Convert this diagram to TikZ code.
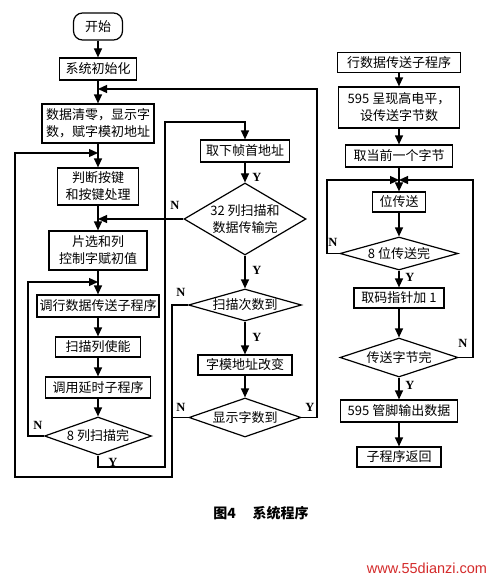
\documentclass[tikz,border=0pt]{standalone}
\usepackage{fontspec}
\setmainfont{Liberation Serif}
\newfontfamily\cjk{Noto Sans CJK SC}
\newfontfamily\wmfont{Liberation Sans}
\usetikzlibrary{shapes.geometric,arrows.meta}
\definecolor{wm}{HTML}{D42A2A}
\tikzset{
  base/.style={draw, line width=1.2pt, font=\cjk\fontsize{13}{17}\selectfont, align=center, inner sep=0pt},
  box/.style={base, rectangle},
  dia/.style={base, diamond},
  line/.style={line width=1.2pt},
  arr/.style={line, -{Triangle[length=9pt,width=8pt]}},
  lab/.style={font=\bfseries\fontsize{12.5}{12.5}\selectfont, inner sep=0pt}
}
\begin{document}
\begin{tikzpicture}[x=1pt,y=-1pt]
\fill[white] (0,0) rectangle (496,578);
\useasboundingbox (0,0) rectangle (496,578);

% left column
\node[box, rounded corners=9pt, minimum width=49pt, minimum height=27pt] (start) at (98,26.5) {开始};
\node[box, minimum width=77pt, minimum height=22pt] (sysinit) at (98,69) {系统初始化};
\node[box, minimum width=112pt, minimum height=39pt] (clear) at (98,123.5) {数据清零，显示字\\数，赋字模初地址};
\node[box, minimum width=81pt, minimum height=37pt] (judge) at (98,186.5) {判断按键\\和按键处理};
\node[box, minimum width=98pt, minimum height=39pt] (chipsel) at (98,250.5) {片选和列\\控制字赋初值};
\node[box, minimum width=122pt, minimum height=22pt] (callrow) at (98,306) {调行数据传送子程序};
\node[box, minimum width=85pt, minimum height=20pt] (scanen) at (98,347) {扫描列使能};
\node[box, minimum width=105pt, minimum height=21pt] (delay) at (98,387.5) {调用延时子程序};
\node[dia, aspect=2.8, minimum width=107pt, minimum height=38pt] (col8) at (98,436) {8 列扫描完};

% middle column
\node[box, minimum width=89pt, minimum height=22pt] (frame) at (245,151) {取下帧首地址};
\node[dia, aspect=1.7, minimum width=122pt, minimum height=72pt] (d32) at (245,219) {32 列扫描和\\数据传输完};
\node[dia, aspect=3.5, minimum width=113pt, minimum height=32pt] (scancnt) at (245,305) {扫描次数到};
\node[box, minimum width=94pt, minimum height=20pt] (addr) at (245,365) {字模地址改变};
\node[dia, aspect=2.9, minimum width=112pt, minimum height=39pt] (disp) at (245,417.5) {显示字数到};

% right column
\node[box, minimum width=123pt, minimum height=20pt] (rowsub) at (399,62.5) {行数据传送子程序};
\node[box, minimum width=121pt, minimum height=41pt] (hi595) at (399,107.5) {595 呈现高电平，\\设传送字节数};
\node[box, minimum width=107pt, minimum height=22pt] (getbyte) at (399,156) {取当前一个字节};
\node[box, minimum width=53pt, minimum height=20pt] (bitx) at (399,202) {位传送};
\node[dia, aspect=3.6, minimum width=118pt, minimum height=33pt] (bit8) at (399,253.5) {8 位传送完};
\node[box, minimum width=90pt, minimum height=20pt] (ptr) at (399,298) {取码指针加 1};
\node[dia, aspect=3, minimum width=118pt, minimum height=39pt] (bd) at (399,357.5) {传送字节完};
\node[box, minimum width=117pt, minimum height=22pt] (out595) at (399,411) {595 管脚输出数据};
\node[box, minimum width=84pt, minimum height=20pt] (ret) at (399,457) {子程序返回};

% junctions and corners
\coordinate (jA) at (98,89);
\coordinate (jB) at (98,153);
\coordinate (jC) at (98,219);
\coordinate (jD) at (98,282);
\coordinate (jR) at (399,180);
\coordinate (cA) at (317,89);
\coordinate (oB) at (172,477);
\coordinate (oC) at (15,153);
\coordinate (oD) at (28,282);
\coordinate (oE) at (165,467);
\coordinate (oF) at (165,122);
\coordinate (oG) at (327,180);
\coordinate (oH) at (473,180);

% left column connectors
\draw[arr] (start) -- (sysinit);
\draw[arr] (sysinit) -- (clear);
\draw[arr] (clear) -- (judge);
\draw[arr] (judge) -- (chipsel);
\draw[arr] (chipsel) -- (callrow);
\draw[arr] (callrow) -- (scanen);
\draw[arr] (scanen) -- (delay);
\draw[arr] (delay) -- (col8);

% loops
\draw[arr] (disp.east) -| (cA) -- (jA);
\draw[arr] (scancnt.west) -| (oB) -| (oC) -- (jB);
\draw[line] (disp.west) -- (disp.west -| oB);
\draw[arr] (d32.west) -- (jC);
\draw[arr] (col8.west) -| (oD) -- (jD);
\draw[arr] (col8.south) |- (oE) -- (oF) -| (frame.north);

% middle column connectors
\draw[arr] (frame) -- (d32);
\draw[arr] (d32) -- (scancnt);
\draw[arr] (scancnt) -- (addr);
\draw[arr] (addr) -- (disp);

% right column connectors
\draw[arr] (rowsub) -- (hi595);
\draw[arr] (hi595) -- (getbyte);
\draw[arr] (getbyte) -- (bitx);
\draw[arr] (bitx) -- (bit8);
\draw[arr] (bit8) -- (ptr);
\draw[arr] (ptr) -- (bd);
\draw[arr] (bd) -- (out595);
\draw[arr] (out595) -- (ret);
\draw[arr] (bit8.west) -| (oG) -- (jR);
\draw[arr] (bd.east) -| (oH) -- (jR);

% labels
\node[lab] (l1) at (257,177) {Y};
\node[lab] (l2) at (175,205) {N};
\node[lab] (l3) at (257,270) {Y};
\node[lab] (l4) at (181,292) {N};
\node[lab] (l5) at (257,337) {Y};
\node[lab] (l6) at (181,407) {N};
\node[lab] (l7) at (310,407) {Y};
\node[lab] (l8) at (38,425) {N};
\node[lab] (l9) at (113,462) {Y};
\node[lab] (l10) at (333,242) {N};
\node[lab] (l11) at (410,277) {Y};
\node[lab] (l12) at (463,343) {N};
\node[lab] (l13) at (410,385) {Y};

% caption and watermark
\node[font=\cjk\bfseries\fontsize{14}{14}\selectfont, inner sep=0pt] (cap) at (261,513) {图4\hspace{1.2em}系统程序};
\node[font=\wmfont\fontsize{14.5}{14.5}\selectfont, text=wm, inner sep=0pt] (wmk) at (427,568) {www.55dianzi.com};
\end{tikzpicture}
\end{document}
